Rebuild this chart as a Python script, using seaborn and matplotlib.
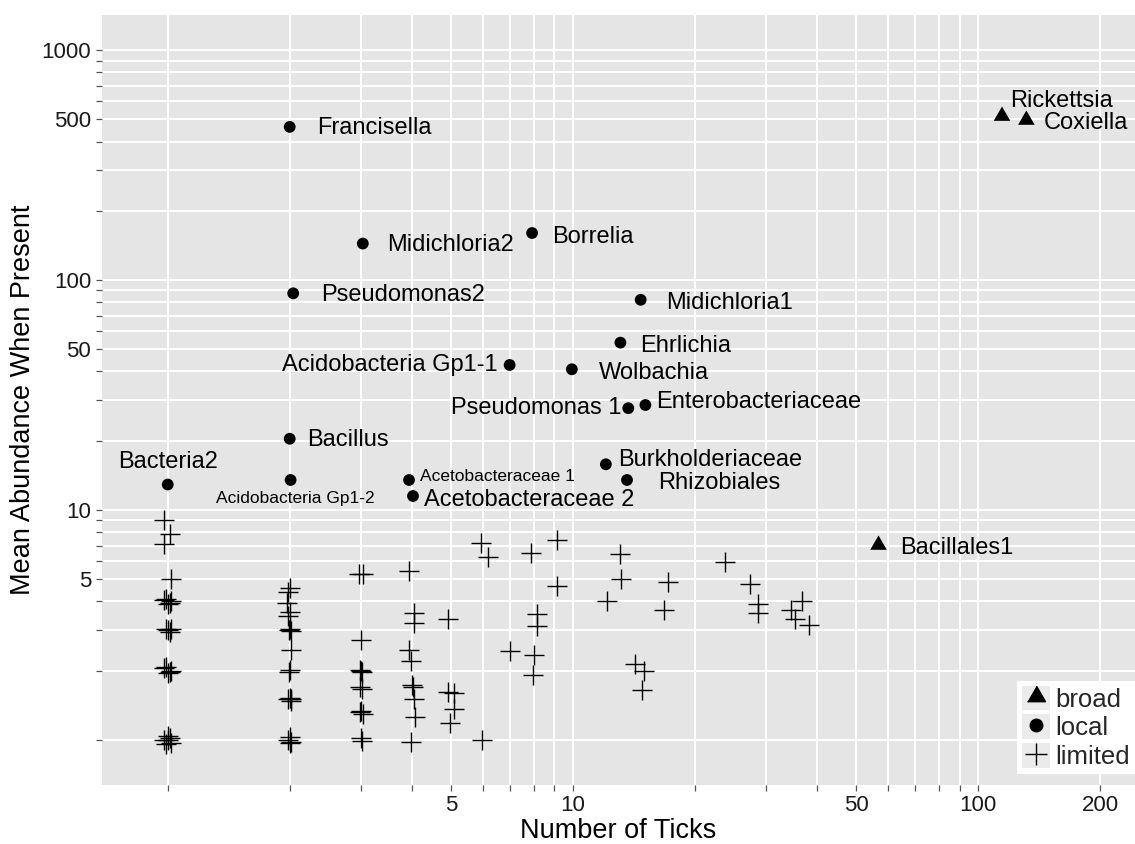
import numpy as np
import pandas as pd
import matplotlib
matplotlib.use("Agg")
import matplotlib.pyplot as plt
import seaborn as sns
from matplotlib.lines import Line2D
from matplotlib.patches import Patch
from matplotlib.ticker import FixedLocator, FixedFormatter, NullLocator

sns.set_theme(style="darkgrid")
plt.rcParams['font.family'] = ['Liberation Sans', 'DejaVu Sans']

# ---------------- data ----------------
local_names = ["Francisella", "Midichloria2", "Pseudomonas2", "Borrelia", "Midichloria1",
               "Ehrlichia", "Acidobacteria Gp1-1", "Wolbachia", "Pseudomonas 1",
               "Enterobacteriaceae", "Burkholderiaceae", "Rhizobiales",
               "Acetobacteraceae 1", "Acetobacteraceae 2", "Bacillus",
               "Acidobacteria Gp1-2", "Bacteria2"]
local_x = [2.0, 3.03, 2.04, 7.93, 14.7, 13.1, 6.98, 9.94, 13.7, 15.1, 12.06, 13.6,
           3.94, 4.03, 2.0, 2.01, 1.0]
local_y = [463, 144, 87.5, 160, 82, 53.4, 42.7, 40.9, 27.7, 28.6, 15.8, 13.5,
           13.5, 11.5, 20.4, 13.5, 12.9]

broad_names = ["Rickettsia", "Coxiella", "Bacillales1"]
broad_x = [114.6, 131.6, 56.8]
broad_y = [516, 496, 7.04]

limited_x = [0.98, 1.01, 0.98, 1.02,
             0.98, 1.0, 1.02, 0.99, 1.01,
             0.99, 1.01, 1.0, 1.02,
             0.98, 1.0, 1.02, 0.99, 1.01,
             0.98, 1.0, 1.02, 0.99, 1.01, 1.0,
             2.0, 1.98, 1.97, 2.0, 1.98, 2.0, 2.02, 1.99, 2.02, 2.0, 1.99,
             1.98, 2.0, 2.02, 2.01, 1.98, 2.0, 2.02, 2.0,
             2.97, 3.03, 3.0, 2.98, 3.02, 3.0, 2.99, 3.02, 3.0, 3.03, 2.98, 3.0, 3.01,
             3.95, 4.05, 4.06, 3.93, 3.98, 4.0, 4.02, 4.06, 4.08, 3.98,
             4.93, 4.93, 5.08, 5.08, 4.98,
             5.93, 6.16, 5.98,
             6.98, 7.88, 8.15, 8.15, 8.03, 7.96, 9.13, 9.13,
             12.13, 13.09, 13.16, 14.25, 15.0, 14.8, 17.2, 16.8,
             23.8, 27.4, 28.6, 28.6, 34.5, 36.8, 35.4, 38.2]
limited_y = [9.05, 7.9, 7.1, 5.0,
             4.05, 3.92, 4.0, 4.12, 3.95,
             3.05, 2.95, 3.0, 3.03,
             2.05, 1.95, 2.0, 2.08, 1.97,
             1.0, 1.04, 0.97, 0.96, 1.02, 1.0,
             4.6, 4.4, 3.93, 3.6, 3.47, 3.05, 2.98, 3.0, 2.46, 2.02, 1.98,
             1.5, 1.52, 1.48, 1.5, 1.0, 1.03, 0.98, 0.97,
             5.27, 5.27, 2.72, 2.02, 1.98, 2.0, 1.7, 1.66, 1.34, 1.3, 1.32, 1.02, 0.99,
             5.41, 3.55, 3.21, 2.46, 2.21, 1.74, 1.70, 1.50, 1.26, 0.98,
             3.35, 1.61, 1.6, 1.37, 1.19,
             7.16, 6.23, 1.0,
             2.44, 6.48, 3.53, 3.13, 2.34, 1.92, 7.44, 4.67,
             4.0, 6.44, 5.0, 2.14, 2.0, 1.65, 4.87, 3.69,
             5.92, 4.75, 3.90, 3.55, 3.69, 4.0, 3.35, 3.16]

x_breaks = [1, 2, 3, 4, 5, 6, 7, 8, 9, 10, 20, 30, 40, 50, 60, 70, 80, 90, 100, 200]
x_labels = ["", "", "", "", "5", "", "", "", "", "10", "", "", "", "50", "", "", "", "", "100", "200"]
y_breaks = [1, 2, 3, 4, 5, 6, 7, 8, 9, 10, 20, 30, 40, 50, 60, 70, 80, 90,
            100, 200, 300, 400, 500, 600, 700, 800, 900, 1000]
y_labels = ["", "", "", "", "5", "", "", "", "", "10", "", "", "", "50", "", "", "", "",
            "100", "", "", "", "500", "", "", "", "", "1000"]

legend_labels = ["broad", "local", "limited"]

# ---------------- layout (label offsets in pixels: dx, dy(down), ha, small) ----------------
local_label_layout = {
    "Francisella": (27, 1, "left", False),
    "Midichloria2": (24, 1, "left", False),
    "Pseudomonas2": (28, 2, "left", False),
    "Borrelia": (20, 4, "left", False),
    "Midichloria1": (25, 3, "left", False),
    "Ehrlichia": (20, 3, "left", False),
    "Acidobacteria Gp1-1": (-12, 0, "right", False),
    "Wolbachia": (27, 4, "left", False),
    "Pseudomonas 1": (-7, 0, "right", False),
    "Enterobacteriaceae": (11, -3, "left", False),
    "Burkholderiaceae": (12, -4, "left", False),
    "Rhizobiales": (31, 3, "left", False),
    "Acetobacteraceae 1": (11, -3, "left", True),
    "Acetobacteraceae 2": (11, 4, "left", False),
    "Bacillus": (17, 1, "left", False),
    "Acidobacteria Gp1-2": (5, 19, "center", True),
    "Bacteria2": (0, -23, "center", False),
}
broad_label_layout = {
    "Rickettsia": (8, -15, "left", False),
    "Coxiella": (17, 3, "left", False),
    "Bacillales1": (22, 3, "left", False),
}

# equilateral triangle marker
tri = [(-1.0, -0.577), (1.0, -0.577), (0.0, 1.155)]

fig = plt.figure(figsize=(11.35, 8.44), dpi=100)
ax = fig.add_axes([0.0896, 0.0699, 0.9104, 0.9123])
ax.set_facecolor('#E5E5E5')
for s in ax.spines.values():
    s.set_visible(False)

sns.scatterplot(x=limited_x, y=limited_y, marker='+', s=210, color='black',
                linewidth=1.0, ax=ax, zorder=3)
sns.scatterplot(x=local_x, y=local_y, marker='o', s=72, color='black',
                edgecolor='none', ax=ax, zorder=3)
sns.scatterplot(x=broad_x, y=broad_y, marker=tri, s=190, color='black',
                edgecolor='none', ax=ax, zorder=3)

ax.set_xscale('log')
ax.set_yscale('log')
ax.set_xlim(0.687, 244)
ax.set_ylim(0.637, 1419)

ax.xaxis.set_major_locator(FixedLocator(x_breaks))
ax.xaxis.set_major_formatter(FixedFormatter(x_labels))
ax.yaxis.set_major_locator(FixedLocator(y_breaks))
ax.yaxis.set_major_formatter(FixedFormatter(y_labels))
ax.xaxis.set_minor_locator(NullLocator())
ax.yaxis.set_minor_locator(NullLocator())

ax.grid(True, which='major', color='white', linewidth=1.4)
ax.set_axisbelow(True)
ax.tick_params(axis='both', which='major', length=4.5, width=0.9, color='#555555',
               labelsize=16, labelcolor='#1a1a1a', pad=3, bottom=True, left=True)

ax.set_xlabel("Number of Ticks", fontsize=19.5, labelpad=1, color='black')
ax.set_ylabel("Mean Abundance When Present", fontsize=19.5, labelpad=4, color='black')

def put_labels(names, xs, ys, layout):
    for n, x, y in zip(names, xs, ys):
        dx, dy, ha, small = layout[n]
        ax.annotate(n, (x, y), xytext=(dx, -dy), textcoords='offset pixels',
                    ha=ha, va='center', fontsize=12.5 if small else 17,
                    color='black', zorder=4)

put_labels(local_names, local_x, local_y, local_label_layout)
put_labels(broad_names, broad_x, broad_y, broad_label_layout)

key_bg = Patch(facecolor='#EBEBEB', edgecolor='none')
handles = [
    (key_bg, Line2D([], [], marker=tri, color='black', linestyle='none', markersize=15)),
    (key_bg, Line2D([], [], marker='o', color='black', linestyle='none', markersize=9)),
    (key_bg, Line2D([], [], marker='+', color='black', linestyle='none', markersize=16,
                    markeredgewidth=1.0)),
]
leg = ax.legend(handles, legend_labels, loc='lower right', bbox_to_anchor=(1.0, 0.014),
                borderaxespad=0, fontsize=18.5, frameon=True, facecolor='white',
                edgecolor='white', framealpha=1, fancybox=False, handlelength=1.1,
                handleheight=1.1, handletextpad=0.2, labelspacing=0.1, borderpad=0.2)
leg.get_frame().set_linewidth(0)

fig.savefig("out.png", dpi=100)
